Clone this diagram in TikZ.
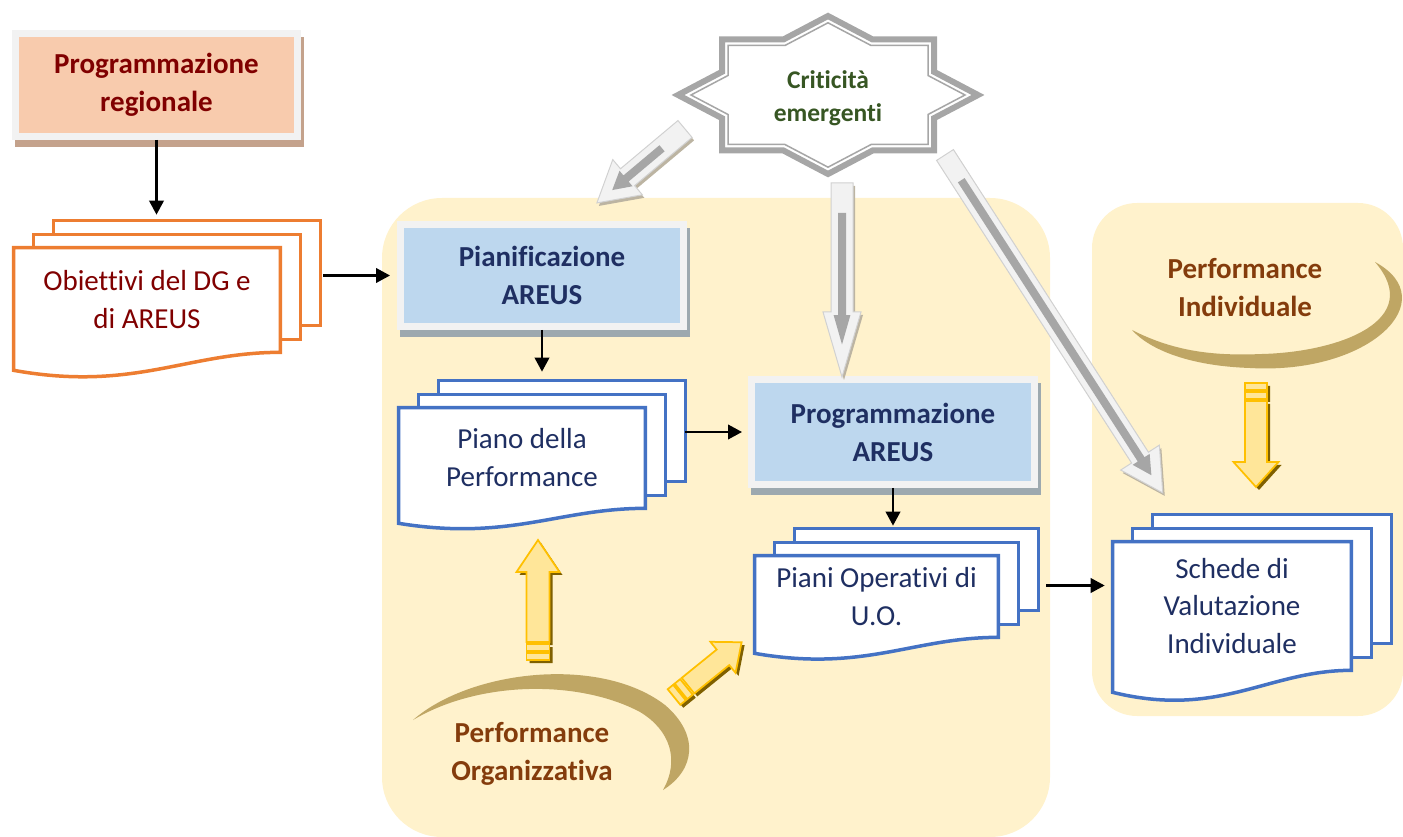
\documentclass[tikz,border=0pt]{standalone}
\usepackage{fontspec}
\setmainfont[Ligatures={NoCommon}]{Carlito}
\usepackage{tikz}
\usetikzlibrary{arrows.meta,calc,shadows}

\definecolor{panel}{HTML}{FFF2CC}
\definecolor{frame}{HTML}{F2F2F2}
\definecolor{pinkfill}{HTML}{F8CBAD}
\definecolor{pinkshadow}{HTML}{C4A28C}
\definecolor{bluefill}{HTML}{BDD7EE}
\definecolor{blueshadow}{HTML}{9DA9AF}
\definecolor{docorange}{HTML}{ED7D31}
\definecolor{docblue}{HTML}{4472C4}
\definecolor{darkred}{HTML}{800000}
\definecolor{navy}{HTML}{1F2F62}
\definecolor{perfbrown}{HTML}{843C0C}
\definecolor{critgreen}{HTML}{375623}
\definecolor{moon}{HTML}{BFA664}
\definecolor{stargrey}{HTML}{A6A6A6}
\definecolor{ylight}{HTML}{FFE699}
\definecolor{ydark}{HTML}{FFC000}
\definecolor{yshadow}{HTML}{7F6000}
\definecolor{gshadow}{HTML}{BCB4A2}

\pgfdeclarelayer{back}
\pgfdeclarelayer{mid}
\pgfsetlayers{back,mid,main}

\tikzset{
  box/.style={draw=frame,line width=1.4mm,align=center,inner sep=0,
    font=\fontsize{16.5}{21.6}\selectfont\bfseries,
    drop shadow={shadow xshift=0.06cm,shadow yshift=-0.14cm,opacity=1,fill=#1,draw=#1,line width=1.4mm}},
  doc/.style={align=center,inner sep=0,font=\fontsize{16.5}{21.6}\selectfont},
  page/.style={fill=white,line width=0.7mm},
  conn/.style={line width=0.45mm,-{Triangle[length=2.8mm,width=2.9mm]}},
  perf/.style={align=center,text=perfbrown,font=\fontsize{16.5}{21.6}\selectfont\bfseries}
}

% stacked pages behind a document node
\newcommand{\docpages}[3]{%
  \begin{pgfonlayer}{mid}
  \foreach \dx/\dy in {40/-27,20/-13}
    \draw[page,draw=#2] ($(#1.north west)+(\dx,\dy)$) rectangle ($(#1.south east)+(\dx,\dy)$);
  \draw[page,draw=#2] (#1.north west) -- (#1.north east) -- (#1.south east)
    .. controls ($(#1.south east)!.35!(#1.south west)$) and ($(#1.south west)!.45!(#1.south east)+(0,2.2*#3)$)
    .. ($(#1.south west)+(0,#3)$) -- cycle;
  \end{pgfonlayer}}

\begin{document}
\begin{tikzpicture}[x=0.02cm,y=-0.02cm]
  \useasboundingbox (0,0) rectangle (1403,837);

  % Block arrow macros: (tail) (angle:length:shaft:head width:head length)
  \def\yarrow(#1)(#2:#3:#4:#5:#6)%
  { \begin{scope}[shift={(#1)},shift={(3,3)},rotate=#2]
      \fill[yshadow] (18,{-#4/2}) -- ({#3-#6},{-#4/2}) -- ({#3-#6},{-#5/2}) -- (#3,0) -- ({#3-#6},{#5/2}) -- ({#3-#6},{#4/2}) -- (18,{#4/2}) -- cycle
        (0,{-#4/2}) rectangle (16,{#4/2});
    \end{scope}
    \begin{scope}[shift={(#1)},rotate=#2]
      \filldraw[fill=ylight,draw=ydark,line width=0.35mm] (18,{-#4/2}) -- ({#3-#6},{-#4/2}) -- ({#3-#6},{-#5/2}) -- (#3,0) -- ({#3-#6},{#5/2}) -- ({#3-#6},{#4/2}) -- (18,{#4/2}) -- cycle;
      \filldraw[fill=ylight,draw=ydark,line width=0.35mm] (0,{-#4/2}) rectangle (7,{#4/2}) (9,{-#4/2}) rectangle (16,{#4/2});
    \end{scope} }
  \def\garrow(#1)(#2:#3:#4:#5:#6)%
  { \begin{scope}[shift={(#1)},shift={(2,3)},rotate=#2]
      \fill[gshadow] (0,{-#4/2}) -- ({#3-#6},{-#4/2}) -- ({#3-#6},{-#5/2}) -- (#3,0) -- ({#3-#6},{#5/2}) -- ({#3-#6},{#4/2}) -- (0,{#4/2}) -- cycle;
    \end{scope}
    \begin{scope}[shift={(#1)},rotate=#2]
      \filldraw[fill=frame,draw=black!18,line width=0.2mm] (0,{-#4/2}) -- ({#3-#6},{-#4/2}) -- ({#3-#6},{-#5/2}) -- (#3,0) -- ({#3-#6},{#5/2}) -- ({#3-#6},{#4/2}) -- (0,{#4/2}) -- cycle;
      \fill[stargrey] (30,-4) -- ({#3-0.95*#6},-4) -- ({#3-0.95*#6},{-0.22*#5}) -- ({#3-0.5*#6},0) -- ({#3-0.95*#6},{0.22*#5}) -- ({#3-0.95*#6},4) -- (30,4) -- cycle;
    \end{scope} }
  % Star: [style] (centre) (rect half w:rect half h:diamond half w:diamond half h)
  \def\eightstar[#1](#2)(#3:#4:#5:#6)%
  { \draw[#1,shift={(#2)}] (-#5,0) -- (-#3,{-#6*(#5-#3)/#5}) -- (-#3,-#4) -- ({-#5*(#6-#4)/#6},-#4) -- (0,-#6)
      -- ({#5*(#6-#4)/#6},-#4) -- (#3,-#4) -- (#3,{-#6*(#5-#3)/#5}) -- (#5,0) -- (#3,{#6*(#5-#3)/#5}) -- (#3,#4)
      -- ({#5*(#6-#4)/#6},#4) -- (0,#6) -- ({-#5*(#6-#4)/#6},#4) -- (-#3,#4) -- (-#3,{#6*(#5-#3)/#5}) -- cycle; }

  % Panels and moons
  \begin{pgfonlayer}{back}
    \fill[panel,rounded corners=1.2cm] (382,198) rectangle (1050,837);
    \fill[panel,rounded corners=0.9cm] (1092,203) rectangle (1403,716);
    \fill[moon] (413,720) .. controls (470,670) and (600,655) .. (665,705) .. controls (700,735) and (695,770) .. (663,790)
      .. controls (680,760) and (670,730) .. (640,712) .. controls (580,680) and (480,680) .. (413,720) -- cycle;
    \fill[moon] (1375,262) .. controls (1445,300) and (1370,375) .. (1250,368) .. controls (1190,366) and (1150,350) .. (1132,330)
      .. controls (1175,352) and (1215,356) .. (1262,354) .. controls (1340,352) and (1425,320) .. (1375,262) -- cycle;
  \end{pgfonlayer}

  % The boxes
  \node[box=pinkshadow,fill=pinkfill,text=darkred,minimum width=5.64cm,minimum height=2.06cm] (regbox) at (156.5,85) {Programmazione\\regionale};
  \node[box=blueshadow,fill=bluefill,text=navy,minimum width=5.66cm,minimum height=2.04cm] (pianbox) at (542,275.5) {Pianificazione\\AREUS};
  \node[box=blueshadow,fill=bluefill,text=navy,minimum width=5.66cm,minimum height=2.1cm] (progbox) at (893,432) {Programmazione\\AREUS};

  % Documents
  \node[doc,text=darkred,minimum width=5.32cm,minimum height=2.08cm] (obj) at (147,300) {Obiettivi del DG e\\di AREUS};
  \node[doc,text=navy,minimum width=4.92cm,minimum height=2cm] (piano) at (522,458) {Piano della\\Performance};
  \node[doc,text=navy,minimum width=4.86cm,minimum height=1.62cm] (piani) at (876.5,596.5) {Piani Operativi di\\U.O.};
  \node[doc,text=navy,minimum width=4.76cm,minimum height=2.56cm] (schede) at (1232,606) {Schede di\\Valutazione\\Individuale};
  \docpages{obj}{docorange}{18}
  \docpages{piano}{docblue}{15}
  \docpages{piani}{docblue}{16}
  \docpages{schede}{docblue}{22}

  % Connectors
  \coordinate (objT) at ($(obj.north)+(0,-33)$);
  \coordinate (objR) at ($(obj.east)+(43,0)$);
  \coordinate (pianoT) at ($(piano.north)+(0,-36)$);
  \coordinate (pianoR) at ($(piano.east)+(40,0)$);
  \coordinate (pianiT) at ($(piani.north)+(0,-30)$);
  \coordinate (pianiR) at ($(piani.east)+(48,-11)$);
  \draw[conn] (regbox.south) -- (regbox.south |- objT);
  \draw[conn,shorten >=1.4mm] (objR |- pianbox.west) -- (pianbox.west);
  \draw[conn] (pianbox.south) -- (pianbox.south |- pianoT);
  \draw[conn,shorten >=1.2mm] (pianoR |- progbox.west) -- (progbox.west);
  \draw[conn] (progbox.south) -- (progbox.south |- pianiT);
  \draw[conn,shorten >=1.6mm] (pianiR) -- (pianiR -| schede.west);

  % Criticita
  \eightstar[draw=stargrey,fill=white,line width=1.2mm](828,95)(106:55.5:150:79)
  \eightstar[draw=stargrey,line width=0.3mm](828,95)(100:49.5:137:72.2)
  \node[align=center,text=critgreen,font=\fontsize{14.5}{18.7}\selectfont\bfseries] (crit) at (828,98) {Criticità\\emergenti};
  \garrow(685,129)(220:115:22:46:40)
  \garrow(842,183)(-90:194:22:38:65)
  \garrow(945,155)(-57.2:402:20:46:42)

  % Performance
  \node[perf] (perfOrg) at (532,754) {Performance\\Organizzativa};
  \node[perf] (perfInd) at (1245,288) {Performance\\Individuale};
  \yarrow(538,660)(90:120:23:43:32)
  \yarrow(674,697)(39:87:20:40:24)
  \yarrow(1256,383)(-90:104:22:45:25)

\end{tikzpicture}
\end{document}
